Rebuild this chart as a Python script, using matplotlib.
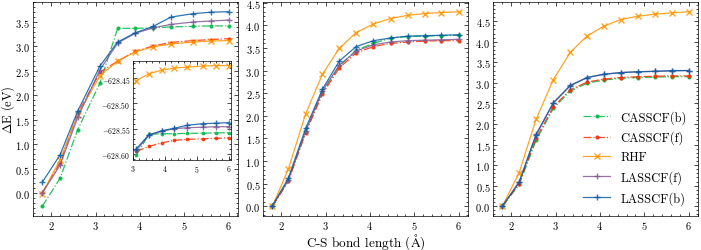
import numpy as np
import matplotlib
matplotlib.use('Agg')
from matplotlib import pyplot as plt
from matplotlib.ticker import AutoMinorLocator, MultipleLocator

# science-like style
plt.rcParams['font.family'] = ['cmr10', 'DejaVu Serif']
plt.rcParams['mathtext.fontset'] = 'cm'
plt.rcParams['axes.formatter.use_mathtext'] = True
plt.rcParams['axes.linewidth'] = 0.5
for ax_ in ('xtick', 'ytick'):
    plt.rcParams[ax_ + '.direction'] = 'in'
    plt.rcParams[ax_ + '.major.size'] = 3
    plt.rcParams[ax_ + '.major.width'] = 0.5
    plt.rcParams[ax_ + '.minor.size'] = 1.5
    plt.rcParams[ax_ + '.minor.width'] = 0.5
    plt.rcParams[ax_ + '.minor.visible'] = True
plt.rcParams['xtick.top'] = True
plt.rcParams['ytick.right'] = True

labels = ['CASSCF(b)', 'CASSCF(f)', 'RHF', 'LASSCF(f)', 'LASSCF(b)']
colors = ['#00B945', '#FF2C00', '#FF9500', '#845B97', '#0C5DA5']
styles = ['-.', '-.', '-', '-', '-']
markers = ['.', '.', 'x', '+', '+']

# panel 1
x1 = [1.8, 2.2, 2.6, 3.1, 3.5, 3.9, 4.3, 4.7, 5.2, 5.6, 6.0]
p1_casscf_b = [-0.27, 0.30, 1.30, 2.25, 3.37, 3.37, 3.38, 3.40, 3.41, 3.42, 3.42]
p1_casscf_f = [0.01, 0.62, 1.63, 2.47, 2.70, 2.90, 3.01, 3.08, 3.12, 3.14, 3.16]
p1_rhf = [-0.01, 0.68, 1.60, 2.40, 2.70, 2.89, 2.99, 3.05, 3.09, 3.11, 3.12]
p1_lasscf_f = [0.00, 0.57, 1.55, 2.52, 3.07, 3.27, 3.38, 3.45, 3.50, 3.52, 3.54]
p1_lasscf_b = [0.22, 0.78, 1.68, 2.60, 3.09, 3.28, 3.41, 3.60, 3.67, 3.70, 3.71]

# inset of panel 1 (absolute energies, Ha)
x_in = [3.1, 3.5, 3.9, 4.3, 4.7, 5.2, 5.6, 6.0]
in_casscf_b = [-628.603, -628.561, -628.560, -628.560, -628.559, -628.559, -628.558, -628.558]
in_casscf_f = [-628.595, -628.585, -628.578, -628.573, -628.571, -628.570, -628.569, -628.568]
in_rhf = [-628.455, -628.441, -628.434, -628.430, -628.428, -628.426, -628.425, -628.425]
in_lasscf_f = [-628.593, -628.563, -628.555, -628.550, -628.548, -628.547, -628.546, -628.546]
in_lasscf_b = [-628.590, -628.562, -628.554, -628.549, -628.543, -628.540, -628.539, -628.538]

# panel 2
x2 = [1.8, 2.16, 2.55, 2.93, 3.31, 3.69, 4.08, 4.47, 4.85, 5.23, 5.61, 6.0]
p2_casscf_b = [0.0, 0.58, 1.65, 2.52, 3.10, 3.45, 3.60, 3.72, 3.75, 3.76, 3.77, 3.78]
p2_casscf_f = [0.0, 0.55, 1.62, 2.48, 3.06, 3.39, 3.53, 3.60, 3.63, 3.65, 3.66, 3.66]
p2_rhf = [0.0, 0.82, 2.04, 2.92, 3.49, 3.84, 4.03, 4.15, 4.22, 4.26, 4.28, 4.30]
p2_lasscf_f = [0.0, 0.57, 1.66, 2.55, 3.12, 3.43, 3.57, 3.63, 3.66, 3.67, 3.68, 3.69]
p2_lasscf_b = [0.01, 0.62, 1.72, 2.59, 3.21, 3.53, 3.66, 3.72, 3.76, 3.77, 3.78, 3.79]

# panel 3
x3 = [1.8, 2.18, 2.56, 2.95, 3.33, 3.71, 4.09, 4.47, 4.85, 5.24, 5.62, 6.0]
p3_casscf_b = [0.0, 0.53, 1.60, 2.38, 2.80, 2.99, 3.07, 3.11, 3.13, 3.14, 3.15, 3.15]
p3_casscf_f = [0.0, 0.55, 1.65, 2.42, 2.83, 3.02, 3.09, 3.13, 3.15, 3.16, 3.17, 3.17]
p3_rhf = [0.0, 0.82, 2.11, 3.08, 3.74, 4.14, 4.38, 4.54, 4.62, 4.67, 4.70, 4.73]
p3_lasscf_f = [0.0, 0.60, 1.75, 2.52, 2.94, 3.13, 3.21, 3.25, 3.27, 3.28, 3.29, 3.30]
p3_lasscf_b = [0.0, 0.58, 1.73, 2.51, 2.93, 3.13, 3.21, 3.25, 3.27, 3.28, 3.30, 3.30]

fig = plt.figure(figsize=(7.01, 2.51), dpi=100)
ax1 = fig.add_axes([0.047, 0.1355, 0.2924, 0.8526])
ax2 = fig.add_axes([0.3752, 0.1355, 0.2924, 0.8526])
ax3 = fig.add_axes([0.7033, 0.1355, 0.2924, 0.8526])
axin = fig.add_axes([0.1897, 0.3586, 0.1398, 0.394])

def draw(ax, x, ys, ms=4):
    for y, lab, c, ls, m in zip(ys, labels, colors, styles, markers):
        mk = 5 if m in ('x', '+') else ms
        ax.plot(x, y, ls, marker=m, color=c, label=lab, lw=0.9, ms=mk, alpha=0.85)

draw(ax1, x1, [p1_casscf_b, p1_casscf_f, p1_rhf, p1_lasscf_f, p1_lasscf_b])
draw(ax2, x2, [p2_casscf_b, p2_casscf_f, p2_rhf, p2_lasscf_f, p2_lasscf_b])
draw(ax3, x3, [p3_casscf_b, p3_casscf_f, p3_rhf, p3_lasscf_f, p3_lasscf_b])
draw(axin, x_in, [in_casscf_b, in_casscf_f, in_rhf, in_lasscf_f, in_lasscf_b], ms=3.5)

for ax in (ax1, ax2, ax3):
    ax.set_xticks([2, 3, 4, 5, 6])
    ax.yaxis.set_major_locator(MultipleLocator(0.5))
    ax.yaxis.set_major_formatter(plt.FuncFormatter(lambda v, p: r'$%.1f$' % v))
    ax.tick_params(labelsize=7.5)
    ax.tick_params(axis='x', pad=2.5)
    ax.tick_params(axis='y', pad=2)
    ax.xaxis.set_minor_locator(AutoMinorLocator())
    ax.yaxis.set_minor_locator(AutoMinorLocator(5))

ax1.set_ylabel(r'$\Delta$E (eV)', fontsize=9)
ax1.yaxis.set_label_coords(-0.08, 0.5)
ax2.set_xlabel(r'C-S bond length ($\mathrm{\AA}$)', fontsize=9.5, labelpad=0)

axin.set_xlim(3, 6.07)
axin.set_xticks([3, 4, 5, 6])
axin.set_yticks([-628.60, -628.55, -628.50, -628.45])
axin.yaxis.set_major_formatter(plt.FuncFormatter(lambda v, p: r'$%.2f$' % v))
axin.tick_params(labelsize=5.5, pad=2)
axin.xaxis.set_minor_locator(AutoMinorLocator())
axin.yaxis.set_minor_locator(AutoMinorLocator())

ax3.legend(loc='lower right', frameon=False, fontsize=9, handlelength=2.2,
           labelspacing=0.55)

fig.savefig('out.png', dpi=100)
